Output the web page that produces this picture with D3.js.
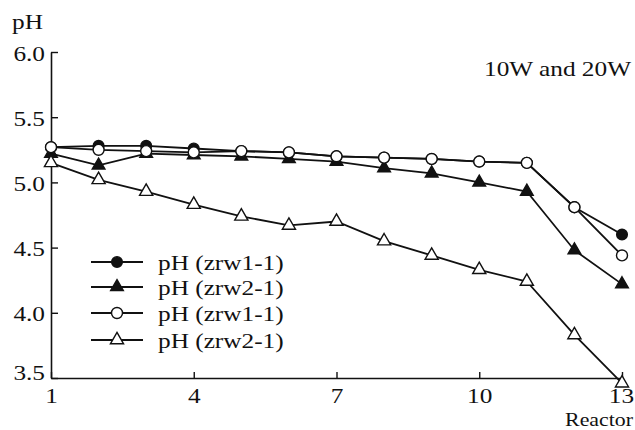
<!DOCTYPE html>
<html><head><meta charset="utf-8">
<script src="https://cdn.jsdelivr.net/npm/d3@7"></script>
<style>
html,body{margin:0;padding:0;background:#fff;}
svg{display:block;}
svg text{font-family:"Liberation Serif","Times New Roman",serif !important;fill:#111;}
</style></head>
<body>
<svg id="chart" width="635" height="430"></svg>
<script>
const reactors = [1,2,3,4,5,6,7,8,9,10,11,12,13];
const seriesNames = ["pH (zrw1-1)","pH (zrw2-1)","pH (zrw1-1)","pH (zrw2-1)"];
const zrw1Filled = [5.27,5.28,5.28,5.26,5.24,5.23,5.20,5.19,5.18,5.16,5.15,4.81,4.60];
const zrw2Filled = [5.22,5.13,5.22,5.21,5.20,5.18,5.16,5.11,5.07,5.00,4.93,4.48,4.22];
const zrw1Open   = [5.27,5.25,5.24,5.23,5.24,5.23,5.20,5.19,5.18,5.16,5.15,4.81,4.44];
const zrw2Open   = [5.15,5.02,4.93,4.83,4.74,4.67,4.70,4.55,4.44,4.33,4.24,3.83,3.46];
const yTicks = [3.5,4.0,4.5,5.0,5.5,6.0];
const xTicks = [1,4,7,10,13];

const svg = d3.select("#chart");
const x = d3.scaleLinear().domain([1,13]).range([51,622]);
const y = d3.scaleLinear().domain([3.5,6.0]).range([378,52]);
const SX = 1.15;
const FONT = '"Liberation Serif","Times New Roman",serif';

function txt(g, px, py, s, anchor, size){
  return g.append("text")
    .attr("transform", `translate(${px},${py}) scale(${SX},1)`)
    .attr("text-anchor", anchor || "start")
    .attr("font-family", FONT)
    .attr("font-size", size || 22)
    .text(s);
}

// Y axis
const yAxis = svg.append("g").attr("transform","translate(51,0)")
  .call(d3.axisLeft(y).tickValues(yTicks).tickSizeInner(-7).tickSizeOuter(0).tickFormat(d3.format(".1f")));
yAxis.attr("font-family", FONT).attr("font-size", 22);
yAxis.select(".domain").attr("stroke","#111").attr("stroke-width",1.6);
yAxis.selectAll(".tick line").attr("stroke","#111").attr("stroke-width",1.4);
yAxis.selectAll(".tick text")
  .attr("x",0).attr("dy",null)
  .attr("transform", d => `translate(-6,${d===yTicks[0] ? 1 : 8}) scale(${SX},1)`)
  .attr("text-anchor","end")
  .attr("fill","#111");

// X axis
const xAxis = svg.append("g").attr("transform","translate(0,378)")
  .call(d3.axisBottom(x).tickValues(xTicks).tickSizeInner(-6).tickSizeOuter(0).tickFormat(d3.format("d")));
xAxis.attr("font-family", FONT).attr("font-size", 22);
xAxis.select(".domain").attr("stroke","#111").attr("stroke-width",1.6);
xAxis.selectAll(".tick line").attr("stroke","#111").attr("stroke-width",1.4);
xAxis.selectAll(".tick text")
  .attr("y",0).attr("dy",null)
  .attr("transform", d => `translate(${d===13 ? -1 : 0},25) scale(${SX},1)`)
  .attr("text-anchor","middle")
  .attr("fill","#111");

// titles
txt(svg, 12, 29, "pH");
txt(svg, 631, 76, "10W and 20W", "end");
txt(svg, 633, 425.5, "Reactor", "end", 19);

const series = [
  {vals: zrw1Filled, sym: d3.symbolCircle, size: 90, fill: "#111"},
  {vals: zrw2Filled, sym: d3.symbolTriangle, size: 70, fill: "#111"},
  {vals: zrw1Open, sym: d3.symbolCircle, size: 95, fill: "#fff"},
  {vals: zrw2Open, sym: d3.symbolTriangle, size: 75, fill: "#fff"}
];

const line = d3.line().x((d,i)=>x(reactors[i])).y(d=>y(d));
const lg = svg.append("g");
series.forEach(s=>{
  lg.append("path").datum(s.vals).attr("d",line)
    .attr("fill","none").attr("stroke","#111").attr("stroke-width",1.8);
});
series.forEach(s=>{
  lg.selectAll(null).data(s.vals).enter().append("path")
    .attr("d", d3.symbol().type(s.sym).size(s.size))
    .attr("transform",(d,i)=>`translate(${x(reactors[i])},${y(d)})`)
    .attr("fill", s.fill).attr("stroke","#111").attr("stroke-width",1.4);
});

// Legend
const legY = [262,287,313,340];
const leg = svg.append("g");
series.forEach((s,i)=>{
  leg.append("line").attr("x1",91).attr("x2",143).attr("y1",legY[i]).attr("y2",legY[i])
    .attr("stroke","#111").attr("stroke-width",1.8);
  leg.append("path").attr("d", d3.symbol().type(s.sym).size(s.size))
    .attr("transform",`translate(117,${legY[i]})`)
    .attr("fill", s.fill).attr("stroke","#111").attr("stroke-width",1.4);
  txt(leg, 158, legY[i]+8, seriesNames[i]);
});
</script>
</body></html>
